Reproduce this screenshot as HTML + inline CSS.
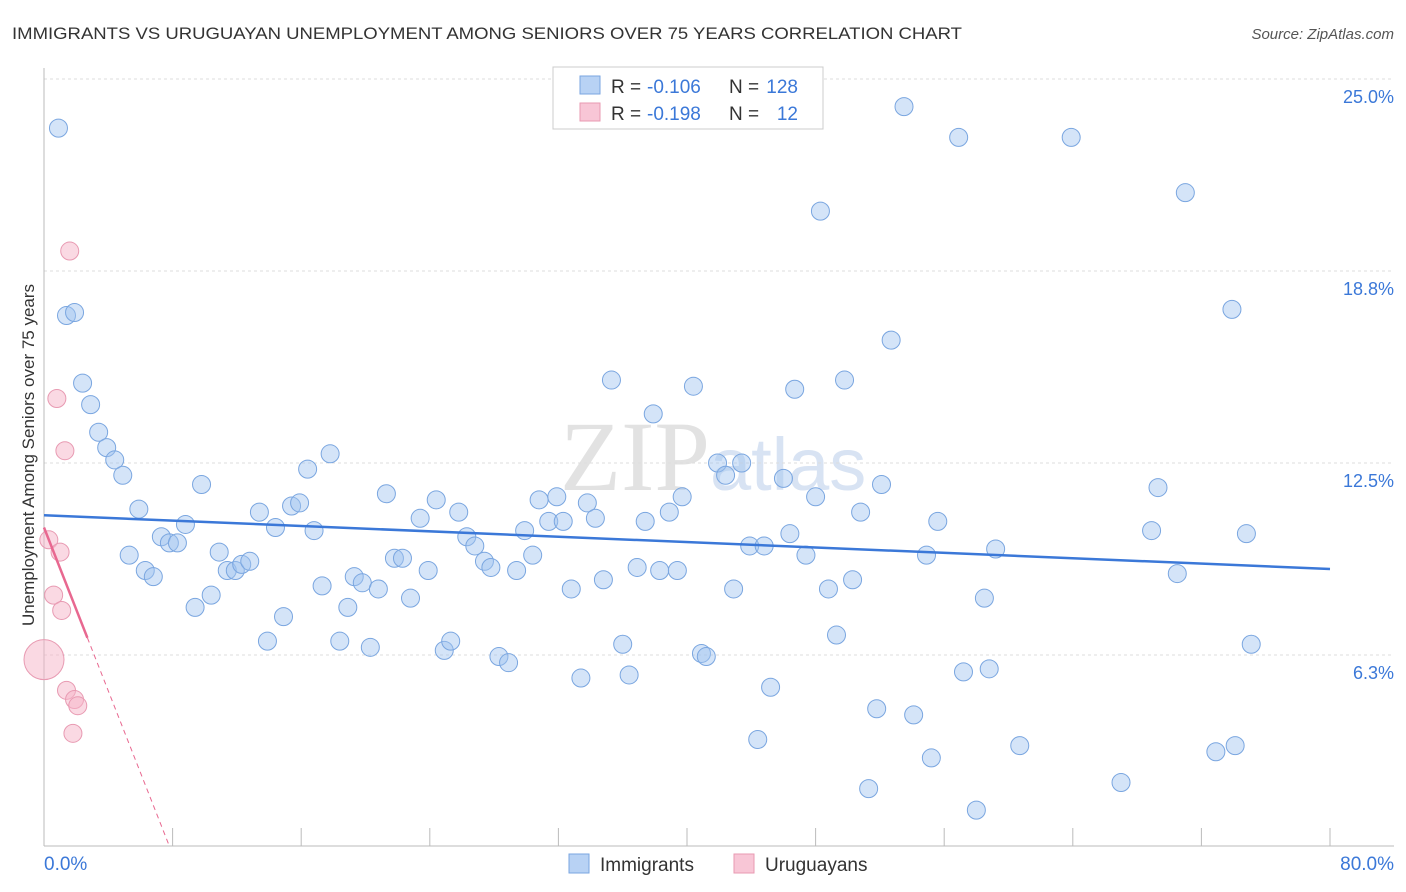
<!DOCTYPE html>
<html><head><meta charset="utf-8"><style>
body{margin:0;background:#fff;font-family:"Liberation Sans",sans-serif;}
svg{display:block}
</style></head><body>
<svg id="chart" width="1406" height="892">
<text x="12" y="39" font-size="17" fill="#333" textLength="950" lengthAdjust="spacingAndGlyphs">IMMIGRANTS VS URUGUAYAN UNEMPLOYMENT AMONG SENIORS OVER 75 YEARS CORRELATION CHART</text>
<text x="1394" y="39" font-size="15" fill="#555" text-anchor="end" font-style="italic">Source: ZipAtlas.com</text>
<text x="560" y="490" font-size="100" fill="#e2e2e2" font-family="Liberation Serif,serif">ZIP<tspan fill="#d8e3f3" font-family="Liberation Sans,sans-serif" font-size="74">atlas</tspan></text>
<g id="grid"></g>
<g id="axes"></g>
<g id="marks"></g>
<text transform="translate(34,455) rotate(-90)" font-size="17" fill="#333" text-anchor="middle">Unemployment Among Seniors over 75 years</text>
<g>
<rect x="553" y="67" width="270" height="62" fill="#fff" stroke="#ccc"/>
<rect x="580" y="76" width="20" height="18" fill="#b8d2f4" stroke="#7aa6e0"/>
<text x="611" y="93" font-size="19" fill="#333">R =</text>
<text x="647" y="93" font-size="19" fill="#3b78d8">-0.106</text>
<text x="729" y="93" font-size="19" fill="#333">N =</text>
<text x="798" y="93" font-size="19" fill="#3b78d8" text-anchor="end">128</text>
<rect x="580" y="103" width="20" height="18" fill="#f8c6d6" stroke="#e89ab2"/>
<text x="611" y="120" font-size="19" fill="#333">R =</text>
<text x="647" y="120" font-size="19" fill="#3b78d8">-0.198</text>
<text x="729" y="120" font-size="19" fill="#333">N =</text>
<text x="798" y="120" font-size="19" fill="#3b78d8" text-anchor="end">12</text>
</g>
<g>
<rect x="569" y="854" width="20" height="19" fill="#b8d2f4" stroke="#7aa6e0"/>
<text x="600" y="871" font-size="19" fill="#333">Immigrants</text>
<rect x="734" y="854" width="20" height="19" fill="#f8c6d6" stroke="#e89ab2"/>
<text x="765" y="871" font-size="19" fill="#333">Uruguayans</text>
</g>
</svg>
<script>
const blueX=[0.9,1.4,1.9,2.4,2.9,3.4,3.9,4.4,4.9,5.9,5.3,6.3,6.8,7.3,7.8,8.3,8.8,9.4,9.8,10.4,10.9,11.4,11.9,12.3,12.8,13.4,13.9,14.4,14.9,15.4,15.9,16.4,16.8,17.3,17.8,18.4,18.9,19.3,19.8,20.3,20.8,21.3,21.8,22.3,22.8,23.4,23.9,24.4,24.9,25.3,25.8,26.3,26.8,27.4,27.8,28.3,28.9,29.4,29.9,30.4,30.8,31.4,31.9,32.3,32.8,33.4,33.8,34.3,34.8,35.3,36.0,36.4,36.9,37.4,37.9,38.3,38.9,39.4,39.7,40.4,40.9,41.2,41.9,42.4,42.9,43.4,43.9,44.4,44.8,45.2,46.0,46.4,46.7,47.4,48.0,48.3,48.8,49.3,49.8,50.3,50.8,51.3,51.8,52.1,52.7,53.5,54.1,54.9,55.2,55.6,56.9,57.2,58.0,58.5,58.8,59.2,60.7,63.9,67.0,68.9,69.3,70.5,71.0,72.9,73.9,74.1,74.8,75.1];
const blueY=[23.4,17.3,17.4,15.1,14.4,13.5,13.0,12.6,12.1,11.0,9.5,9.0,8.8,10.1,9.9,9.9,10.5,7.8,11.8,8.2,9.6,9.0,9.0,9.2,9.3,10.9,6.7,10.4,7.5,11.1,11.2,12.3,10.3,8.5,12.8,6.7,7.8,8.8,8.6,6.5,8.4,11.5,9.4,9.4,8.1,10.7,9.0,11.3,6.4,6.7,10.9,10.1,9.8,9.3,9.1,6.2,6.0,9.0,10.3,9.5,11.3,10.6,11.4,10.6,8.4,5.5,11.2,10.7,8.7,15.2,6.6,5.6,9.1,10.6,14.1,9.0,10.9,9.0,11.4,15.0,6.3,6.2,12.5,12.1,8.4,12.5,9.8,3.5,9.8,5.2,12.0,10.2,14.9,9.5,11.4,20.7,8.4,6.9,15.2,8.7,10.9,1.9,4.5,11.8,16.5,24.1,4.3,9.5,2.9,10.6,23.1,5.7,1.2,8.1,5.8,9.7,3.3,23.1,2.1,10.3,11.7,8.9,21.3,3.1,17.5,3.3,10.2,6.6];
const pinkX=[0,0.3,0.6,0.8,1.0,1.1,1.3,1.4,1.6,1.9,2.1,1.8];
const pinkY=[6.1,10.0,8.2,14.6,9.6,7.7,12.9,5.1,19.4,4.8,4.6,3.7];
const pinkR=[20,9,9,9,9,9,9,9,9,9,9,9];
const yTicks=[6.25,12.5,18.75,25];
const yTickLabels=["6.3%","12.5%","18.8%","25.0%"];
const blueTrend=[10.8,9.05];
const pinkTrend=[10.4,-1.33];

const NS="http://www.w3.org/2000/svg";
const X=v=>44+v/80*1286, Y=v=>847-v*30.72;
function mk(tag,attrs,parent){const e=document.createElementNS(NS,tag);for(const k in attrs)e.setAttribute(k,attrs[k]);document.getElementById(parent).appendChild(e);return e;}
yTicks.forEach((t,i)=>{
 let l=mk('line',{x1:44,x2:1394,y1:Y(t),y2:Y(t),stroke:'#ddd','stroke-dasharray':'3,3'},'grid');
 
 
 let tx=mk('text',{x:1394,y:Y(t)+24,'font-size':18,fill:'#3b78d8','text-anchor':'end'},'axes');
 tx.textContent=yTickLabels[i];
 
 
});
let ax=mk('line',{x1:44,x2:44,y1:68,y2:846,stroke:'#bbb'},'axes');


let bx=mk('line',{x1:44,x2:1394,y1:846,y2:846,stroke:'#bbb'},'axes');


for(let i=1;i<=10;i++){let t=mk('line',{x1:X(i*8),x2:X(i*8),y1:828,y2:846,stroke:'#bbb'},'axes');
 
 }
let x0=mk('text',{x:44,y:870,'font-size':19,fill:'#3b78d8'},'axes');x0.textContent='0.0%';


let x1=mk('text',{x:1394,y:870,'font-size':19,fill:'#3b78d8','text-anchor':'end'},'axes');x1.textContent='80.0%';


blueX.forEach((v,i)=>{let c=mk('circle',{cx:X(v),cy:Y(blueY[i]),r:9,fill:'rgba(160,196,240,0.45)',stroke:'#7aa6e0','stroke-width':1},'marks');
 
 });
pinkX.forEach((v,i)=>{let c=mk('circle',{cx:X(v),cy:Y(pinkY[i]),r:pinkR[i],fill:'rgba(245,180,200,0.5)',stroke:'#e89ab2','stroke-width':1},'marks');
 
 });
let bt=mk('line',{x1:X(0),y1:Y(blueTrend[0]),x2:X(80),y2:Y(blueTrend[1]),stroke:'#3b78d8','stroke-width':2.5},'marks');


const pEnd=2.7, pZero=-pinkTrend[0]/pinkTrend[1];
let pt=mk('line',{x1:X(0),y1:Y(pinkTrend[0]),x2:X(pEnd),y2:Y(pinkTrend[0]+pinkTrend[1]*pEnd),stroke:'#e86890','stroke-width':2.5},'marks');


let pd=mk('line',{x1:X(pEnd),y1:Y(pinkTrend[0]+pinkTrend[1]*pEnd),x2:X(pZero),y2:Y(0),stroke:'#e86890','stroke-width':1,'stroke-dasharray':'5,4'},'marks');


</script>
</body></html>
